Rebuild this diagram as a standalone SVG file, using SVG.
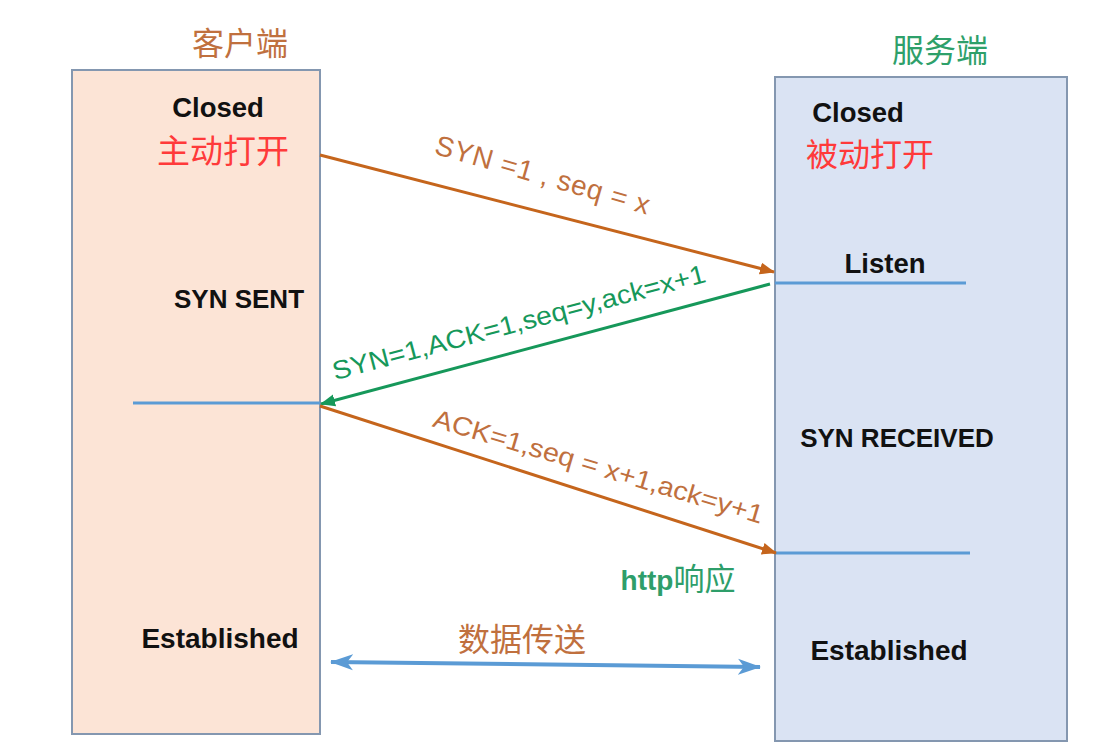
<svg xmlns="http://www.w3.org/2000/svg" width="1104" height="747" viewBox="0 0 1104 747">
<style>
.st{font-family:"Liberation Sans","Noto Sans",sans-serif;font-weight:bold;font-size:26px;fill:#111;text-anchor:middle}
.cjk{font-family:"Noto Sans CJK SC",sans-serif;font-size:32px;text-anchor:middle}
.lbl{font-family:"Liberation Sans","Noto Sans",sans-serif;font-size:26px;text-anchor:middle}
.sep{stroke:#5b9bd5;stroke-width:3;fill:none}
</style>
<defs>
<marker id="aO" markerUnits="userSpaceOnUse" markerWidth="16" markerHeight="14" refX="14" refY="7" orient="auto"><path d="M0,1 L15,7 L0,13 Z" fill="#c5651c"/></marker>
<marker id="aG" markerUnits="userSpaceOnUse" markerWidth="16" markerHeight="14" refX="14" refY="7" orient="auto"><path d="M0,1 L15,7 L0,13 Z" fill="#16985a"/></marker>
<marker id="aB" markerUnits="userSpaceOnUse" markerWidth="24" markerHeight="18" refX="22" refY="9" orient="auto-start-reverse"><path d="M0,1 L23,9 L0,17 L6,9 Z" fill="#5b9bd5"/></marker>
</defs>
<rect width="1104" height="747" fill="#ffffff"/>
<g id="client">
<rect x="72" y="70" width="248" height="664" fill="#fce4d6" stroke="#8497b0" stroke-width="2"/>
<text class="cjk" x="240" y="55" fill="#c0703e">客户端</text>
<text class="st" x="218" y="117" style="font-size:27.5px">Closed</text>
<text class="cjk" x="223" y="163" style="font-size:33px" fill="#ff3a3a">主动打开</text>
<text class="st" x="239" y="308">SYN SENT</text>
<line class="sep" x1="133" y1="403" x2="320" y2="403"/>
<text class="st" x="220" y="648" style="font-size:28px">Established</text>
</g>
<g id="server">
<rect x="775" y="77" width="292" height="664" fill="#dae3f3" stroke="#8497b0" stroke-width="2"/>
<text class="cjk" x="940" y="62" fill="#2ea06a">服务端</text>
<text class="st" x="858" y="122" style="font-size:27.5px">Closed</text>
<text class="cjk" x="870" y="166" style="font-size:32px" fill="#ff3a3a">被动打开</text>
<text class="st" x="885" y="273" style="font-size:27.5px">Listen</text>
<line class="sep" x1="775" y1="283" x2="966" y2="283"/>
<text class="st" x="897" y="447">SYN RECEIVED</text>
<line class="sep" x1="775" y1="553" x2="970" y2="553"/>
<text class="st" x="889" y="660" style="font-size:28px">Established</text>
</g>
<g id="connectors">
<line x1="320" y1="155" x2="774" y2="272" stroke="#c5651c" stroke-width="3" marker-end="url(#aO)"/>
<line x1="770" y1="284" x2="321" y2="404" stroke="#16985a" stroke-width="3" marker-end="url(#aG)"/>
<line x1="320" y1="406" x2="776" y2="553" stroke="#c5651c" stroke-width="3" marker-end="url(#aO)"/>
<line x1="331" y1="662" x2="760" y2="667" stroke="#5b9bd5" stroke-width="4" marker-start="url(#aB)" marker-end="url(#aB)"/>
</g>
<g id="labels">
<text class="lbl" fill="#c0703e" style="font-size:28px" transform="translate(540,184) rotate(16)" textLength="222" lengthAdjust="spacing">SYN =1 ,  seq = x</text>
<text class="lbl" fill="#16985a" transform="translate(521,331) rotate(-14.8)" textLength="385" lengthAdjust="spacingAndGlyphs">SYN=1,ACK=1,seq=y,ack=x+1</text>
<text class="lbl" fill="#c0703e" transform="translate(596,475) rotate(16.5)" textLength="343" lengthAdjust="spacingAndGlyphs">ACK=1,seq = x+1,ack=y+1</text>
<text x="678" y="590" font-family="Liberation Sans,Noto Sans CJK SC,sans-serif" font-weight="bold" font-size="28" fill="#2e9e6a" text-anchor="middle">http<tspan font-family="Noto Sans CJK SC,sans-serif" font-weight="normal" font-size="31">响应</tspan></text>
<text class="cjk" x="522" y="651" fill="#c0703e">数据传送</text>
</g>
</svg>
